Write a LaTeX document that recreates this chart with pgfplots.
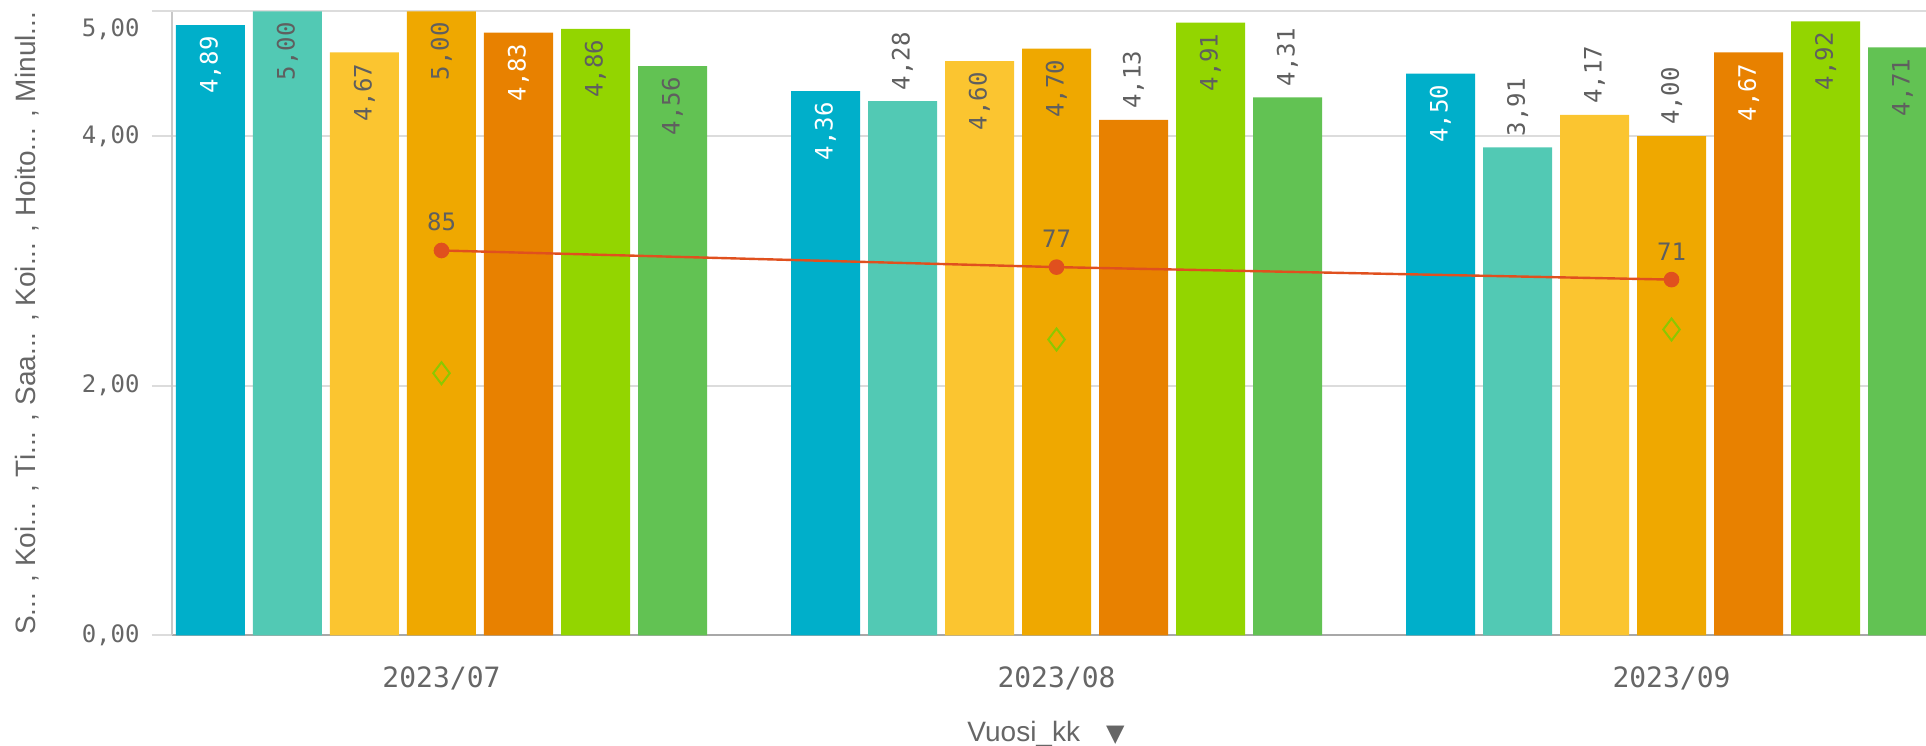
\documentclass[border=0pt]{standalone}
\usepackage{pgfplots}
\pgfplotsset{compat=1.18}
\usepackage{pgfplotstable}
\usepackage{fontspec}
\setmainfont{Liberation Sans}
\newfontfamily\monofont{DejaVu Sans Mono}
\newfontfamily\symfont{DejaVu Sans}

\definecolor{cA}{HTML}{00AFCA}
\definecolor{cB}{HTML}{52C9B4}
\definecolor{cC}{HTML}{FBC530}
\definecolor{cD}{HTML}{EFA800}
\definecolor{cE}{HTML}{E88100}
\definecolor{cF}{HTML}{93D500}
\definecolor{cG}{HTML}{62C253}
\definecolor{labgray}{HTML}{5F5F5F}
\definecolor{tickgray}{HTML}{666666}
\definecolor{gridgray}{HTML}{DCDCDC}
\definecolor{ylinegray}{HTML}{C8C8C8}
\definecolor{xlinegray}{HTML}{A8A8A8}
\definecolor{lineRed}{HTML}{E0501E}
\definecolor{diamondGreen}{HTML}{8CC800}

\newcommand\valfont{\monofont\fontsize{12}{14}\selectfont}

% dy: offset of the label centre from the bar top (negative = inside the bar)
% w:  100 for a white label, 0 for a grey one
\pgfplotsset{
  /pgf/number format/assume math mode=true,
  valbar/.style={
    ybar, bar width=34.5pt, bar shift=#1, draw=none,
    nodes near coords,
    visualization depends on={\thisrow{dy}\as\dy},
    visualization depends on={\thisrow{w}\as\w},
    every node near coord/.append style={xshift=#1, yshift=\dy pt, rotate=90,
      anchor=center, inner sep=0pt, font=\valfont, text=white!\w!labgray},
  },
}

\pgfplotstableread{
x y dy w
0 4.89 -20 100
1 4.36 -20 100
2 4.50 -20 100
}\serA
\pgfplotstableread{
x y dy w
0 5.00 -20 0
1 4.28 20 0
2 3.91 20 0
}\serB
\pgfplotstableread{
x y dy w
0 4.67 -20 0
1 4.60 -20 0
2 4.17 20 0
}\serC
\pgfplotstableread{
x y dy w
0 5.00 -20 0
1 4.70 -20 0
2 4.00 20 0
}\serD
\pgfplotstableread{
x y dy w
0 4.83 -20 100
1 4.13 20 0
2 4.67 -20 100
}\serE
\pgfplotstableread{
x y dy w
0 4.86 -20 0
1 4.91 -20 0
2 4.92 -20 0
}\serF
\pgfplotstableread{
x y dy w
0 4.56 -20 0
1 4.31 20 0
2 4.71 -20 0
}\serG

\begin{document}
\begin{tikzpicture}
\begin{axis}[
  name=main,
  scale only axis, width=877pt, height=312pt,
  xmin=-0.4382, xmax=2.4138,
  ymin=0, ymax=5,
  axis x line*=bottom, axis y line*=left,
  axis line style={-},
  x axis line style={color=xlinegray, line width=1pt},
  y axis line style={color=ylinegray, line width=1pt},
  xtick={0,1,2},
  xticklabels={2023/07,2023/08,2023/09},
  xtick style={draw=none},
  xticklabel style={font=\monofont\fontsize{14}{16}\selectfont, text=tickgray,
    inner sep=0pt, anchor=north, yshift=-5.5pt},
  ytick={0,2,4},
  extra y ticks={5},
  extra y tick style={grid=major,
    yticklabel style={yshift=-9pt}},
  ymajorgrids,
  grid style={color=gridgray, line width=1pt},
  tick align=outside,
  major tick length=10pt,
  ytick style={color=gridgray, line width=1pt},
  yticklabel style={font=\monofont\fontsize{12}{14}\selectfont, text=tickgray,
    inner sep=0pt, anchor=east, xshift=-6pt},
  /pgf/number format/fixed,
  /pgf/number format/zerofill,
  /pgf/number format/precision=2,
  /pgf/number format/use comma,
]
\addplot[valbar=-115.5pt, fill=cA] table[x=x, y=y] {\serA};
\addplot[valbar=-77pt,    fill=cB] table[x=x, y=y] {\serB};
\addplot[valbar=-38.5pt,  fill=cC] table[x=x, y=y] {\serC};
\addplot[valbar=0pt,      fill=cD] table[x=x, y=y] {\serD};
\addplot[valbar=38.5pt,   fill=cE] table[x=x, y=y] {\serE};
\addplot[valbar=77pt,     fill=cF] table[x=x, y=y] {\serF};
\addplot[valbar=115.5pt,  fill=cG] table[x=x, y=y] {\serG};
% hollow diamond markers
\addplot[only marks, mark=diamond, mark size=5.5pt,
  mark options={draw=diamondGreen, line width=1pt, fill=none}]
  coordinates {(0,2.10) (1,2.37) (2,2.45)};
\end{axis}

% secondary scale for the line measure
\begin{axis}[
  scale only axis, width=877pt, height=312pt,
  xmin=-0.4382, xmax=2.4138,
  ymin=-100, ymax=200,
  hide axis, clip=false,
]
\addplot[color=lineRed, line width=1.2pt, mark=*, mark size=3.3pt,
  mark options={fill=lineRed, draw=lineRed},
  nodes near coords,
  every node near coord/.style={anchor=south, inner sep=0pt, yshift=9pt,
    font=\valfont, text=labgray}]
  coordinates {(0,85) (1,77) (2,71)};
\end{axis}

\node[rotate=90, anchor=center, text=tickgray, font=\fontsize{14}{16}\selectfont]
  at ([xshift=-72.5pt]main.west)
  {S... , Koi... , Ti... , Saa... , Koi... , Hoito... , Minul...};
\node[anchor=base, text=tickgray, font=\fontsize{14}{16}\selectfont]
  at ([xshift=-1.5pt, yshift=-53.2pt]main.south)
  {Vuosi\_kk\hspace{13pt}{\symfont\fontsize{12}{14}\selectfont ▼}};

\pgfresetboundingbox
\path ([xshift=-86pt, yshift=-55.35pt]main.south west)
  rectangle ([yshift=5.65pt]main.north east);
\end{tikzpicture}
\end{document}
